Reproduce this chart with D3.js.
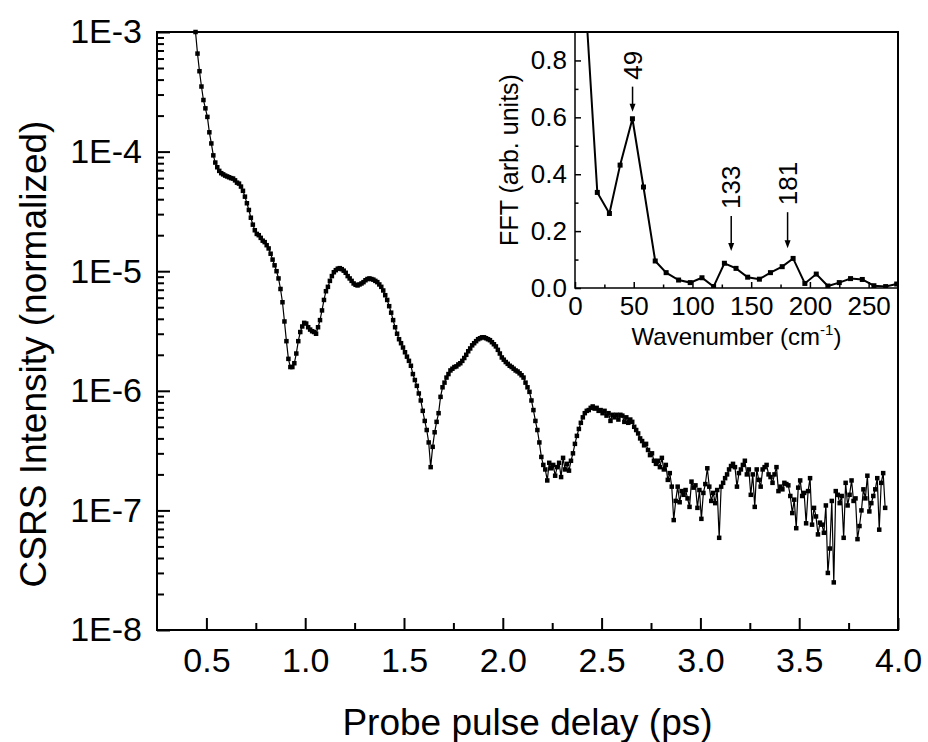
<!DOCTYPE html>
<html>
<head>
<meta charset="utf-8">
<script src="https://cdn.jsdelivr.net/npm/d3@7"></script>
<style>
	body { margin: 0; background: #fff; }
	svg { display: block; font-family: 'Liberation Sans', Arial, sans-serif; }
</style>
</head>
<body>
<div id="chart"></div>
<script>
// main trace: CSRS intensity sampled every 10 fs starting at 0.445 ps
const delayStart = 0.445;
const delayStep = 0.01;
const intensity = [
	1.0e-3, 6.6e-4, 4.7e-4, 3.5e-4, 2.7e-4, 2.3e-4, 1.95e-4, 1.45e-4, 1.17e-4, 9.3e-5,
	8.1e-5, 7.4e-5, 6.9e-5, 6.6e-5, 6.45e-5, 6.3e-5, 6.2e-5, 6.1e-5, 6.0e-5, 5.95e-5,
	5.75e-5, 5.5e-5, 5.4e-5, 5.1e-5, 4.7e-5, 4.2e-5, 3.7e-5, 3.25e-5, 2.8e-5, 2.45e-5,
	2.2e-5, 2.05e-5, 2.0e-5, 1.9e-5, 1.8e-5, 1.75e-5, 1.65e-5, 1.55e-5, 1.4e-5, 1.25e-5,
	1.12e-5, 1.0e-5, 8.7e-6, 7.1e-6, 5.5e-6, 3.8e-6, 2.6e-6, 1.85e-6, 1.58e-6, 1.58e-6,
	1.7e-6, 2.05e-6, 2.6e-6, 3.1e-6, 3.45e-6, 3.7e-6, 3.65e-6, 3.4e-6, 3.25e-6, 3.15e-6,
	3.1e-6, 3.0e-6, 3.4e-6, 3.9e-6, 4.7e-6, 5.75e-6, 6.8e-6, 7.4e-6, 8.3e-6, 9.1e-6,
	9.8e-6, 1.02e-5, 1.05e-5, 1.06e-5, 1.04e-5, 1.01e-5, 9.7e-6, 9.1e-6, 8.7e-6, 8.3e-6,
	7.9e-6, 7.7e-6, 7.6e-6, 7.75e-6, 7.9e-6, 8.1e-6, 8.4e-6, 8.6e-6, 8.7e-6, 8.6e-6,
	8.5e-6, 8.3e-6, 8.1e-6, 7.75e-6, 7.4e-6, 6.9e-6, 6.3e-6, 5.75e-6, 5.1e-6, 4.5e-6,
	3.9e-6, 3.4e-6, 3.0e-6, 2.7e-6, 2.5e-6, 2.3e-6, 2.1e-6, 1.93e-6, 1.78e-6, 1.62e-6,
	1.38e-6, 1.23e-6, 1.1e-6, 9.5e-7, 8.3e-7, 6.8e-7, 5.6e-7, 4.7e-7, 3.7e-7, 2.3e-7,
	3.4e-7, 4.5e-7, 5.5e-7, 6.5e-7, 8.9e-7, 1.07e-6, 1.17e-6, 1.29e-6, 1.38e-6, 1.48e-6,
	1.53e-6, 1.58e-6, 1.6e-6, 1.66e-6, 1.7e-6, 1.78e-6, 1.88e-6, 2.0e-6, 2.14e-6, 2.26e-6,
	2.4e-6, 2.5e-6, 2.6e-6, 2.7e-6, 2.75e-6, 2.8e-6, 2.8e-6, 2.75e-6, 2.7e-6, 2.65e-6,
	2.55e-6, 2.45e-6, 2.35e-6, 2.2e-6, 2.05e-6, 1.9e-6, 1.82e-6, 1.74e-6, 1.68e-6, 1.62e-6,
	1.58e-6, 1.53e-6, 1.48e-6, 1.45e-6, 1.4e-6, 1.35e-6, 1.29e-6, 1.17e-6, 1.07e-6, 9.8e-7,
	8.3e-7, 6.9e-7, 5.6e-7, 4.7e-7, 3.7e-7, 2.8e-7, 2.4e-7, 2.2e-7, 1.78e-7, 2.5e-7,
	2.25e-7, 2.4e-7, 1.95e-7, 2.3e-7, 2.5e-7, 1.9e-7, 2.75e-7, 2.2e-7, 2.45e-7, 2.15e-7,
	2.6e-7, 3.0e-7, 3.6e-7, 4.2e-7, 4.8e-7, 5.4e-7, 6.0e-7, 6.5e-7, 6.8e-7, 6.9e-7,
	7.2e-7, 7.4e-7, 7.1e-7, 7.2e-7, 6.8e-7, 6.9e-7, 6.5e-7, 6.8e-7, 6.2e-7, 6.5e-7,
	5.6e-7, 6.3e-7, 6.0e-7, 6.3e-7, 5.75e-7, 6.3e-7, 6.2e-7, 5.5e-7, 6.0e-7, 5.4e-7,
	5.75e-7, 5.5e-7, 5.0e-7, 4.7e-7, 4.4e-7, 4.0e-7, 3.8e-7, 3.5e-7, 3.6e-7, 3.2e-7,
	2.9e-7, 3.0e-7, 2.6e-7, 2.45e-7, 2.6e-7, 2.3e-7, 2.75e-7, 2.2e-7, 2.4e-7, 1.8e-7,
	2.05e-7, 1.58e-7, 8.3e-8, 1.2e-7, 1.58e-7, 1.17e-7, 1.45e-7, 1.35e-7, 1.48e-7, 1.26e-7,
	1.07e-7, 1.74e-7, 1.55e-7, 1.62e-7, 1.05e-7, 1.48e-7, 8.5e-8, 1.4e-7, 1.66e-7, 2.25e-7,
	1.58e-7, 1.2e-7, 1.4e-7, 1.15e-7, 1.48e-7, 5.9e-8, 1.58e-7, 1.7e-7, 1.86e-7, 2.0e-7,
	2.2e-7, 2.35e-7, 2.45e-7, 2.3e-7, 1.58e-7, 2.05e-7, 2.2e-7, 2.4e-7, 2.6e-7, 2.0e-7,
	2.2e-7, 1.35e-7, 2.0e-7, 1.07e-7, 2.2e-7, 1.8e-7, 1.58e-7, 2.2e-7, 2.3e-7, 2.4e-7,
	2.0e-7, 1.9e-7, 1.7e-7, 2.0e-7, 2.3e-7, 1.45e-7, 1.58e-7, 1.5e-7, 1.7e-7, 1.66e-7,
	1.62e-7, 1.32e-7, 9.5e-8, 1.23e-7, 7.1e-8, 1.55e-7, 1.78e-7, 1.32e-7, 1.4e-7, 7.8e-8,
	1.45e-7, 1.86e-7, 7.6e-8, 1.05e-7, 8.9e-8, 6.3e-8, 7.9e-8, 7.6e-8, 6.5e-8, 1.1e-7,
	3.0e-8, 4.8e-8, 1.2e-7, 2.5e-8, 1.45e-7, 1.35e-7, 1.15e-7, 1.32e-7, 5.9e-8, 1.7e-7,
	1.1e-7, 1.35e-7, 1.78e-7, 1.2e-7, 1.26e-7, 5.75e-8, 7.4e-8, 1.0e-7, 1.5e-7, 1.26e-7,
	1.95e-7, 9.8e-8, 1.15e-7, 1.32e-7, 1.5e-7, 1.86e-7, 6.9e-8, 1.7e-7, 2.05e-7, 1.05e-7
];

const xTickValues = [0.5, 1.0, 1.5, 2.0, 2.5, 3.0, 3.5, 4.0];
const yTickValues = [1e-3, 1e-4, 1e-5, 1e-6, 1e-7, 1e-8];
const yTickLabels = ['1E-3', '1E-4', '1E-5', '1E-6', '1E-7', '1E-8'];

// inset: FFT of the oscillating part
const wavenumber = [9.7, 19.0, 29.3, 38.4, 48.9, 58.3, 68.3, 77.6, 88.2, 98.1, 108.1, 118.0, 127.2, 137.1,
	147.0, 157.0, 166.4, 176.4, 185.7, 195.7, 205.4, 215.3, 225.0, 234.6, 244.6, 254.5, 264.5, 273.9];
const fftAmp = [0.96, 0.336, 0.262, 0.432, 0.595, 0.355, 0.095, 0.054, 0.028, 0.019, 0.036, 0.005, 0.087, 0.069,
	0.038, 0.031, 0.054, 0.075, 0.104, 0.016, 0.049, 0.007, 0.019, 0.033, 0.030, 0.008, 0.005, 0.014];
const insetXTicks = [0, 50, 100, 150, 200, 250];
const insetYTicks = [0.0, 0.2, 0.4, 0.6, 0.8];
const peakLabels = [49, 133, 181];
const peakArrowTip = [0.62, 0.13, 0.14];

const width = 928, height = 742;
const plot = { left: 157, right: 898, top: 32, bottom: 630 };
const inset = { left: 575, right: 898, top: 32, bottom: 288 };

const svg = d3.select('#chart').append('svg')
	.attr('width', width)
	.attr('height', height);

const x = d3.scaleLinear().domain([0.25, 4.0]).range([plot.left, plot.right]);
const y = d3.scaleLog().domain([1e-8, 1e-3]).range([plot.bottom, plot.top]);

// ---- main axes
const xMinor = d3.range(0.75, 4.0, 0.5);
const yMinor = [];
for (let k = -8; k < -3; k++)
	for (let m = 2; m < 10; m++) yMinor.push(m * Math.pow(10, k));

function styleAxis(g, size) {
	g.select('.domain').remove();
	g.selectAll('line').attr('stroke', '#000').attr('stroke-width', 2);
	g.selectAll('text')
		.attr('fill', '#000')
		.attr('font-size', size)
		.attr('font-family', "'Liberation Sans', Arial, sans-serif");
}

svg.append('g')
	.attr('transform', `translate(0, ${plot.bottom})`)
	.call(d3.axisBottom(x).tickValues(xMinor).tickSize(-7).tickFormat(''))
	.call(g => styleAxis(g, 0));
svg.append('g')
	.attr('transform', `translate(0, ${plot.bottom})`)
	.call(d3.axisBottom(x).tickValues(xTickValues).tickSize(-12).tickPadding(18).tickFormat(d3.format('.1f')))
	.call(g => styleAxis(g, 34));

svg.append('g')
	.attr('transform', `translate(${plot.left}, 0)`)
	.call(d3.axisLeft(y).tickValues(yMinor).tickSize(-7).tickFormat(''))
	.call(g => styleAxis(g, 0));
svg.append('g')
	.attr('transform', `translate(${plot.left}, 0)`)
	.call(d3.axisLeft(y).tickValues(yTickValues).tickSize(-13).tickPadding(15)
		.tickFormat((d, i) => yTickLabels[i]))
	.call(g => styleAxis(g, 34));

svg.append('rect')
	.attr('x', plot.left).attr('y', plot.top)
	.attr('width', plot.right - plot.left).attr('height', plot.bottom - plot.top)
	.attr('fill', 'none').attr('stroke', '#000').attr('stroke-width', 2);

svg.append('text')
	.attr('x', (plot.left + plot.right) / 2).attr('y', 735)
	.attr('text-anchor', 'middle').attr('font-size', 37)
	.text('Probe pulse delay (ps)');
svg.append('text')
	.attr('transform', 'translate(46, 354) rotate(-90)')
	.attr('text-anchor', 'middle').attr('font-size', 37)
	.text('CSRS Intensity (normalized)');

// ---- main data
const samples = intensity.map((v, i) => ({ t: delayStart + i * delayStep, v: v }));

svg.append('path')
	.datum(samples)
	.attr('fill', 'none').attr('stroke', '#000').attr('stroke-width', 1.2)
	.attr('d', d3.line().x(d => x(d.t)).y(d => y(d.v)));

svg.append('g').selectAll('rect')
	.data(samples)
	.join('rect')
	.attr('x', d => x(d.t) - 2.25).attr('y', d => y(d.v) - 2.25)
	.attr('width', 4.5).attr('height', 4.5)
	.attr('fill', '#000');

// ---- inset
const xi = d3.scaleLinear().domain([0, 275]).range([inset.left, inset.right]);
const yi = d3.scaleLinear().domain([0, 0.9]).range([inset.bottom, inset.top]);

function styleInset(g, size) {
	g.select('.domain').remove();
	g.selectAll('line').attr('stroke', '#000').attr('stroke-width', 1.5);
	g.selectAll('text')
		.attr('fill', '#000')
		.attr('font-size', size)
		.attr('font-family', "'Liberation Sans', Arial, sans-serif");
}

svg.append('g')
	.attr('transform', `translate(0, ${inset.bottom})`)
	.call(d3.axisBottom(xi).tickValues(d3.range(25, 275, 50)).tickSize(-3.5).tickFormat(''))
	.call(g => styleInset(g, 0));
svg.append('g')
	.attr('transform', `translate(0, ${inset.bottom})`)
	.call(d3.axisBottom(xi).tickValues(insetXTicks).tickSize(-6).tickPadding(9).tickFormat(d3.format('d')))
	.call(g => styleInset(g, 26));
svg.append('g')
	.attr('transform', `translate(${inset.left}, 0)`)
	.call(d3.axisLeft(yi).tickValues([0.1, 0.3, 0.5, 0.7]).tickSize(-3.5).tickFormat(''))
	.call(g => styleInset(g, 0));
svg.append('g')
	.attr('transform', `translate(${inset.left}, 0)`)
	.call(d3.axisLeft(yi).tickValues(insetYTicks).tickSize(-6).tickPadding(8).tickFormat(d3.format('.1f')))
	.call(g => styleInset(g, 26));

svg.append('path')
	.attr('d', `M${inset.left},${inset.top}V${inset.bottom}H${inset.right}`)
	.attr('fill', 'none').attr('stroke', '#000').attr('stroke-width', 1.5);

svg.append('clipPath').attr('id', 'inset-clip')
	.append('rect')
	.attr('x', inset.left).attr('y', inset.top)
	.attr('width', inset.right - inset.left).attr('height', inset.bottom - inset.top);

const spectrum = wavenumber.map((w, i) => ({ w: w, a: fftAmp[i] }));
const insetG = svg.append('g').attr('clip-path', 'url(#inset-clip)');

insetG.append('path')
	.datum(spectrum)
	.attr('fill', 'none').attr('stroke', '#000').attr('stroke-width', 2)
	.attr('d', d3.line().x(d => xi(d.w)).y(d => yi(d.a)));
insetG.selectAll('rect')
	.data(spectrum)
	.join('rect')
	.attr('x', d => xi(d.w) - 2.5).attr('y', d => yi(d.a) - 2.5)
	.attr('width', 5).attr('height', 5)
	.attr('fill', '#000');

svg.append('text')
	.attr('transform', `translate(518, ${(inset.top + inset.bottom) / 2}) rotate(-90)`)
	.attr('text-anchor', 'middle').attr('font-size', 25)
	.text('FFT (arb. units)');

const wnLabel = svg.append('text')
	.attr('x', (inset.left + inset.right) / 2).attr('y', 345)
	.attr('text-anchor', 'middle').attr('font-size', 24);
wnLabel.append('tspan').text('Wavenumber (cm');
wnLabel.append('tspan').attr('font-size', 15).attr('dy', -10).text('-1');
wnLabel.append('tspan').attr('dy', 10).text(')');

// peak markers: arrow pointing down at the labelled wavenumber
const arrowLen = [25, 35, 36];
peakLabels.forEach((p, i) => {
	const px = xi(p);
	const tip = yi(peakArrowTip[i]);
	const top = tip - arrowLen[i];
	svg.append('line')
		.attr('x1', px).attr('x2', px)
		.attr('y1', top).attr('y2', tip - 6)
		.attr('stroke', '#000').attr('stroke-width', 1.5);
	svg.append('path')
		.attr('d', `M${px - 3},${tip - 8}L${px + 3},${tip - 8}L${px},${tip}Z`)
		.attr('fill', '#000');
	svg.append('text')
		.attr('transform', `translate(${px + 9}, ${top - 7}) rotate(-90)`)
		.attr('font-size', 26)
		.text(p);
});
</script>
</body>
</html>
